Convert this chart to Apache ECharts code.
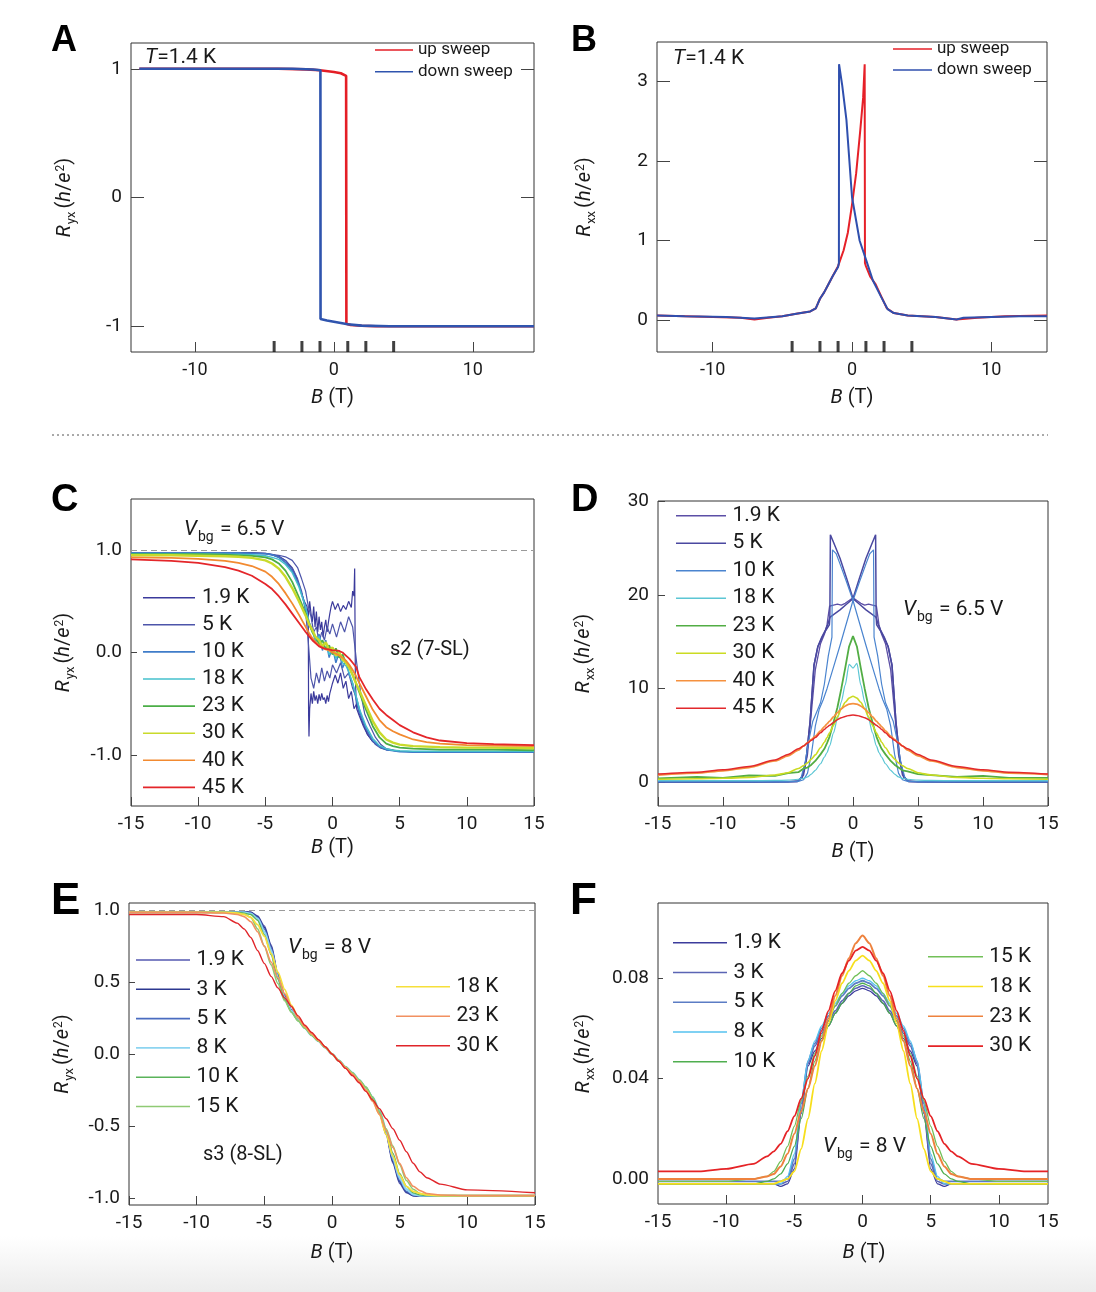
<!DOCTYPE html>
<html><head><meta charset="utf-8">
<script src="https://cdn.jsdelivr.net/npm/echarts@6/dist/echarts.min.js"></script>
<style>html,body{margin:0;padding:0;background:#fff}
#c{width:1096px;height:1292px;background:linear-gradient(to bottom,#fff 0,#fff 1236px,#ececec 1292px)}</style>
</head><body><div id="c"></div><script>
// ---------- Panel A (Ryx, T=1.4 K) ----------
const B_A_up = [-14.0,-8,-4,-2,-1,0,0.5,0.88,0.9,1.2,2,3,5,14.4];
const R_A_up = [1,1,1,0.995,0.988,0.975,0.965,0.945,-0.98,-0.99,-0.996,-1,-1,-1];
const B_A_down = [14.4,8,4,2,1,0.5,0,-0.5,-0.96,-0.97,-1.5,-3,-8,-14.0];
const R_A_down = [-1,-1,-1,-0.995,-0.985,-0.975,-0.965,-0.955,-0.943,0.988,0.994,1,1,1];
const fieldMarks = [-4.3,-2.3,-1,1,2.3,4.3];
// ---------- Panel B (Rxx, T=1.4 K) ----------
const B_B_up = [-14,-12,-10,-8,-7,-6,-5,-4,-3,-2.6,-2.3,-2,-1.7,-1.4,-1,-0.6,-0.3,0,0.3,0.6,0.8,0.91,0.93,1.0,1.3,1.7,2.1,2.5,3,4,5,6,7.5,9,11,14];
const R_B_up = [0.06,0.05,0.04,0.03,0.01,0.03,0.05,0.08,0.11,0.15,0.27,0.35,0.45,0.55,0.68,0.88,1.1,1.45,1.85,2.4,2.8,3.22,0.72,0.68,0.55,0.45,0.3,0.15,0.09,0.06,0.05,0.04,0.01,0.03,0.05,0.06];
const B_B_down = [14,12,10,8,7.5,6,5,4,3,2.55,2.1,1.5,1.03,0.55,0,-0.4,-0.7,-0.93,-0.94,-1.0,-1.4,-1.7,-2.0,-2.3,-2.6,-3,-4,-5,-7,-9,-12,-14];
const R_B_down = [0.05,0.05,0.04,0.03,0.01,0.04,0.05,0.06,0.09,0.14,0.29,0.5,0.75,1.0,1.55,2.52,2.95,3.22,0.72,0.67,0.55,0.45,0.35,0.27,0.15,0.11,0.08,0.05,0.02,0.04,0.05,0.06];
// ---------- Panel C (Ryx, s2 7-SL, Vbg=6.5 V) ----------
const B_C = [-15,-12,-10,-8,-7,-6,-5,-4.5,-4,-3.5,-3,-2.5,-2,-1.75,-1.5,-1.25,-1,-0.75,-0.5,-0.25,0,0.25,0.5,0.75,1,1.25,1.5,1.75,2,2.5,3,3.5,4,4.5,5,6,7,8,10,12,15];
const B_C19a = [-15,-10,-6,-5,-4.5,-4,-3.5,-3,-2.7,-2.4,-2.1,-1.9,-1.8,-1.78,-1.75,-1.7,-1.6,-1.5,-1.4,-1.3,-1.2,-1.1,-1.0,-0.9,-0.8,-0.7,-0.6,-0.5,-0.4,-0.3,-0.2,-0.1,0,0.2,0.4,0.6,0.8,1.0,1.2,1.4,1.6,1.8,2.0,2.3,2.6,3.0,3.5,4,5,6,10,15];
const R_C19a = [0.975,0.975,0.975,0.97,0.96,0.94,0.9,0.82,0.74,0.62,0.48,0.36,0.25,-0.6,-0.82,-0.55,-0.4,-0.5,-0.38,-0.47,-0.42,-0.5,-0.41,-0.47,-0.4,-0.46,-0.44,-0.5,-0.42,-0.48,-0.4,-0.35,-0.3,-0.22,-0.3,-0.2,-0.35,-0.28,-0.45,-0.38,-0.55,-0.5,-0.6,-0.7,-0.8,-0.87,-0.92,-0.95,-0.965,-0.97,-0.97,-0.965];
const B_C19b = [-15,-10,-6,-5,-4.5,-4,-3.5,-3,-2.7,-2.4,-2.1,-1.9,-1.8,-1.7,-1.6,-1.5,-1.4,-1.3,-1.2,-1.1,-1.0,-0.9,-0.8,-0.7,-0.6,-0.5,-0.4,-0.3,-0.2,-0.1,0,0.2,0.4,0.6,0.8,1.0,1.2,1.4,1.5,1.6,1.65,1.7,1.75,1.8,2.0,2.3,2.6,3.0,3.5,4,5,6,10,15];
const R_C19b = [0.975,0.975,0.975,0.97,0.955,0.93,0.88,0.8,0.72,0.62,0.5,0.45,0.35,0.5,0.38,0.3,0.45,0.25,0.4,0.2,0.35,0.22,0.3,0.15,0.25,0.32,0.2,0.3,0.38,0.45,0.5,0.42,0.48,0.4,0.46,0.42,0.5,0.44,0.6,0.55,0.82,-0.2,-0.45,-0.55,-0.62,-0.72,-0.8,-0.87,-0.92,-0.95,-0.965,-0.97,-0.97,-0.965];
const B_C5 = [-15,-8,-5,-4,-3.5,-3,-2.6,-2.3,-2.0,-1.8,-1.6,-1.4,-1.2,-1.0,-0.8,-0.6,-0.4,-0.2,0,0.3,0.6,0.9,1.2,1.5,1.8,2.1,2.4,2.8,3.2,3.6,4,5,8,15];
const R_C5a = [0.97,0.97,0.965,0.94,0.9,0.83,0.72,0.6,0.4,0.1,-0.25,-0.35,-0.2,-0.3,-0.15,-0.28,-0.18,-0.25,-0.12,-0.2,-0.1,-0.25,-0.2,-0.35,-0.45,-0.6,-0.72,-0.83,-0.9,-0.935,-0.95,-0.965,-0.97,-0.97];
const R_C5b = [0.97,0.97,0.965,0.95,0.935,0.9,0.83,0.72,0.6,0.45,0.35,0.2,0.25,0.1,0.2,0.12,0.25,0.18,0.28,0.15,0.3,0.2,0.35,0.25,-0.1,-0.4,-0.6,-0.72,-0.83,-0.9,-0.94,-0.965,-0.97,-0.97];
const R_C10 = [0.975,0.975,0.975,0.975,0.975,0.97,0.965,0.955,0.93,0.88,0.8,0.66,0.45,0.3,0.22,0.1,0.18,0.02,0.12,-0.05,0.05,-0.1,0.0,-0.15,-0.08,-0.22,-0.3,-0.45,-0.58,-0.74,-0.86,-0.92,-0.95,-0.96,-0.97,-0.975,-0.975,-0.975,-0.975,-0.975,-0.975];
const R_C18 = [0.965,0.965,0.965,0.96,0.96,0.955,0.945,0.93,0.91,0.86,0.78,0.64,0.44,0.3,0.2,0.12,0.16,0.05,0.1,-0.02,0.04,-0.06,0.02,-0.1,-0.13,-0.2,-0.3,-0.42,-0.55,-0.72,-0.84,-0.91,-0.94,-0.955,-0.96,-0.965,-0.965,-0.965,-0.965,-0.965,-0.965];
const R_C23 = [0.96,0.96,0.96,0.955,0.95,0.945,0.93,0.91,0.87,0.8,0.69,0.54,0.38,0.28,0.2,0.15,0.08,0.12,0.03,0.07,-0.02,0.04,-0.05,-0.02,-0.1,-0.14,-0.22,-0.3,-0.39,-0.56,-0.72,-0.83,-0.89,-0.915,-0.93,-0.94,-0.945,-0.95,-0.95,-0.95,-0.955];
const R_C30 = [0.95,0.95,0.945,0.94,0.935,0.925,0.9,0.87,0.82,0.74,0.63,0.5,0.36,0.28,0.22,0.15,0.12,0.06,0.1,0.02,0.05,-0.03,0.0,-0.07,-0.1,-0.15,-0.22,-0.3,-0.37,-0.52,-0.67,-0.78,-0.85,-0.88,-0.9,-0.915,-0.92,-0.925,-0.93,-0.93,-0.935];
const R_C40 = [0.93,0.925,0.915,0.895,0.875,0.845,0.79,0.74,0.67,0.58,0.48,0.37,0.25,0.19,0.14,0.1,0.07,0.05,0.03,0.02,0.0,-0.01,-0.03,-0.05,-0.08,-0.12,-0.17,-0.23,-0.3,-0.43,-0.56,-0.66,-0.73,-0.77,-0.8,-0.85,-0.875,-0.89,-0.905,-0.91,-0.915];
const R_C45 = [0.91,0.895,0.875,0.835,0.8,0.75,0.67,0.62,0.55,0.47,0.38,0.29,0.2,0.16,0.12,0.09,0.06,0.045,0.035,0.03,0.02,0.02,0.015,0.0,-0.03,-0.06,-0.1,-0.14,-0.24,-0.36,-0.46,-0.55,-0.61,-0.66,-0.71,-0.78,-0.83,-0.86,-0.885,-0.895,-0.905];
// ---------- Panel D (Rxx, s2, Vbg=6.5 V) ----------
const B_D = [-15,-12,-10,-8,-6,-5,-4.2,-3.8,-3.5,-3.2,-2.9,-2.5,-2.2,-2,-1.8,-1.5,-1.2,-0.9,-0.6,-0.3,0,0.3,0.6,0.9,1.2,1.5,1.8,2,2.2,2.5,2.9,3.2,3.5,3.8,4.2,5,6,8,10,12,15];
const R_D19 = [0.1,0.1,0.1,0.1,0.1,0.1,0.2,0.8,3.0,7.5,12.0,14.8,15.8,16.8,18.8,18.9,19.0,18.9,19.1,19.4,19.7,19.4,19.1,18.9,19.0,18.9,18.8,16.8,15.8,14.8,12.0,7.5,3.0,0.8,0.2,0.1,0.1,0.1,0.1,0.1,0.1];
const B_D5a = [-15,-8,-5,-4.3,-3.9,-3.6,-3.3,-3.0,-2.7,-2.4,-2.1,-1.9,-1.78,-1.74,-1.5,-1.0,-0.5,0,0.5,1.0,1.5,1.78,1.82,2.1,2.4,2.7,3.0,3.3,3.6,3.9,4.3,5,8,15];
const R_D5a = [0.05,0.05,0.08,0.1,0.6,2.5,6.5,12.5,14.5,15.5,16.3,17.0,17.6,26.4,25.6,23.9,21.8,19.6,19.0,18.4,17.9,17.6,16.8,16.2,15.4,14.5,12.5,6.5,2.5,0.6,0.1,0.08,0.05,0.05];
const B_D5b = [-15,-8,-5,-4.3,-3.9,-3.6,-3.3,-3.0,-2.7,-2.4,-2.1,-1.82,-1.78,-1.5,-1.0,-0.5,0,0.5,1.0,1.5,1.74,1.78,1.9,2.1,2.4,2.7,3.0,3.3,3.6,3.9,4.3,5,8,15];
const R_D5b = [0.05,0.05,0.08,0.1,0.6,2.5,6.5,12.5,14.5,15.4,16.2,16.8,17.6,17.9,18.4,19.0,19.6,21.8,23.9,25.6,26.4,17.6,17.0,16.3,15.5,14.5,12.5,6.5,2.5,0.6,0.1,0.08,0.05,0.05];
const B_D10a = [-15,-8,-5,-4.3,-4.0,-3.7,-3.4,-3.1,-2.8,-2.5,-2.2,-1.9,-1.62,-1.58,-1.3,-1.0,-0.5,0,0.5,1.0,1.5,2.0,2.3,2.6,2.9,3.2,3.5,3.8,4.2,5,8,15];
const R_D10a = [0.1,0.1,0.1,0.15,0.5,2.0,4.5,6.5,7.5,8.5,10.5,13.5,15.5,24.8,24.4,23.3,21.4,19.4,17.0,14.6,12.3,10.0,8.8,7.8,6.0,3.0,1.0,0.3,0.12,0.1,0.1,0.1];
const B_D10b = [-15,-8,-5,-4.2,-3.8,-3.5,-3.2,-2.9,-2.6,-2.3,-2.0,-1.5,-1.0,-0.5,0,0.5,1.0,1.3,1.58,1.62,1.9,2.2,2.5,2.8,3.1,3.4,3.7,4.0,4.3,5,8,15];
const R_D10b = [0.1,0.1,0.1,0.12,0.3,1.0,3.0,6.0,7.8,8.8,10.0,12.3,14.6,17.0,19.4,21.4,23.3,24.4,24.8,15.5,13.5,10.5,8.5,7.5,6.5,4.5,2.0,0.5,0.15,0.1,0.1,0.1];
const R_D18 = [0.2,0.2,0.2,0.2,0.22,0.25,0.35,0.45,0.6,0.9,1.3,2.0,2.7,3.2,3.9,5.3,6.8,8.6,10.4,12.6,12.2,12.7,10.4,8.6,6.8,5.3,3.9,3.2,2.7,2.0,1.3,0.9,0.6,0.45,0.35,0.25,0.22,0.2,0.2,0.2,0.2];
const R_D23 = [0.45,0.6,0.5,0.75,0.7,1.0,1.1,1.5,1.6,1.9,2.3,3.0,3.6,4.2,4.9,6.4,8.0,10.0,12.2,14.5,15.6,14.5,12.2,10.0,8.0,6.4,4.9,4.2,3.6,3.0,2.3,1.9,1.6,1.3,1.2,0.9,0.8,0.6,0.7,0.5,0.5];
const R_D30 = [0.35,0.4,0.45,0.55,0.8,1.05,1.5,1.8,2.1,2.5,2.95,3.7,4.3,4.8,5.3,6.1,7.0,7.85,8.55,9.0,9.2,9.0,8.55,7.85,7.0,6.1,5.3,4.8,4.3,3.7,2.95,2.5,2.1,1.8,1.5,1.05,0.8,0.55,0.45,0.4,0.35];
const R_D40 = [0.8,1.0,1.25,1.6,2.3,2.85,3.45,3.9,4.25,4.6,4.95,5.5,5.95,6.25,6.55,7.0,7.45,7.85,8.15,8.35,8.4,8.35,8.15,7.85,7.45,7.0,6.55,6.25,5.95,5.5,4.95,4.6,4.25,3.9,3.45,2.85,2.3,1.6,1.25,1.0,0.85];
const R_D45 = [0.9,1.1,1.35,1.7,2.4,3.0,3.6,3.9,4.2,4.5,4.8,5.3,5.65,5.9,6.1,6.4,6.7,6.9,7.05,7.15,7.2,7.15,7.05,6.9,6.7,6.4,6.1,5.9,5.65,5.3,4.8,4.5,4.2,3.9,3.6,3.0,2.4,1.7,1.35,1.1,0.9];
// ---------- Panel E (Ryx, s3 8-SL, Vbg=8 V) ----------
const B_E = [-15,-10,-8,-7,-6.5,-6,-5.5,-5,-4.5,-4,-3.5,-3,-2.5,-2,-1.5,-1,-0.5,0,0.5,1,1.5,2,2.5,3,3.5,4,4.5,5,5.5,6,6.5,7,8,10,15];
const R_E19 = [0.99,0.99,0.99,0.99,0.99,0.985,0.96,0.89,0.76,0.56,0.41,0.31,0.245,0.19,0.14,0.095,0.048,0,-0.048,-0.095,-0.14,-0.19,-0.245,-0.31,-0.41,-0.56,-0.76,-0.9,-0.965,-0.985,-0.99,-0.99,-0.99,-0.99,-0.99];
const R_E3 = [0.99,0.99,0.99,0.99,0.99,0.985,0.955,0.88,0.75,0.55,0.405,0.305,0.24,0.185,0.135,0.09,0.045,0,-0.045,-0.09,-0.135,-0.185,-0.24,-0.305,-0.405,-0.55,-0.75,-0.89,-0.96,-0.985,-0.99,-0.99,-0.99,-0.99,-0.99];
const R_E5 = [0.985,0.985,0.985,0.985,0.985,0.98,0.95,0.87,0.74,0.545,0.4,0.3,0.24,0.185,0.135,0.09,0.045,0,-0.045,-0.09,-0.135,-0.185,-0.24,-0.3,-0.4,-0.545,-0.74,-0.88,-0.955,-0.98,-0.985,-0.985,-0.985,-0.985,-0.985];
const R_E8 = [0.985,0.985,0.985,0.985,0.985,0.975,0.94,0.85,0.72,0.53,0.39,0.3,0.235,0.18,0.13,0.09,0.045,0,-0.045,-0.09,-0.13,-0.18,-0.235,-0.3,-0.39,-0.53,-0.72,-0.86,-0.94,-0.975,-0.985,-0.985,-0.985,-0.985,-0.985];
const R_E10 = [0.985,0.985,0.985,0.985,0.98,0.97,0.93,0.83,0.69,0.52,0.38,0.29,0.23,0.18,0.13,0.09,0.045,0,-0.045,-0.09,-0.13,-0.18,-0.23,-0.3,-0.4,-0.53,-0.69,-0.83,-0.92,-0.965,-0.98,-0.985,-0.985,-0.985,-0.985];
const R_E15 = [0.985,0.985,0.985,0.98,0.975,0.95,0.87,0.75,0.62,0.49,0.37,0.29,0.23,0.18,0.13,0.09,0.045,0,-0.045,-0.09,-0.13,-0.18,-0.23,-0.3,-0.4,-0.52,-0.64,-0.77,-0.88,-0.94,-0.97,-0.98,-0.985,-0.985,-0.985];
const R_E18 = [0.985,0.985,0.985,0.98,0.97,0.95,0.9,0.82,0.7,0.57,0.45,0.34,0.255,0.19,0.14,0.095,0.048,0,-0.048,-0.095,-0.14,-0.19,-0.25,-0.32,-0.42,-0.56,-0.71,-0.84,-0.92,-0.955,-0.97,-0.98,-0.985,-0.985,-0.985];
const R_E23 = [0.985,0.985,0.98,0.97,0.955,0.92,0.85,0.75,0.64,0.53,0.42,0.33,0.25,0.19,0.14,0.095,0.048,0,-0.048,-0.095,-0.14,-0.19,-0.25,-0.33,-0.42,-0.53,-0.65,-0.76,-0.86,-0.92,-0.95,-0.97,-0.98,-0.985,-0.985];
const R_E30 = [0.97,0.97,0.955,0.91,0.87,0.81,0.72,0.63,0.54,0.46,0.39,0.33,0.265,0.2,0.15,0.1,0.05,0,-0.05,-0.1,-0.15,-0.2,-0.26,-0.32,-0.38,-0.45,-0.52,-0.6,-0.68,-0.76,-0.82,-0.86,-0.905,-0.945,-0.965];
// ---------- Panel F (Rxx, s3, Vbg=8 V) ----------
const B_F = [-15,-12,-10,-8,-7,-6.5,-6,-5.5,-5,-4.5,-4,-3.5,-3,-2.5,-2,-1.5,-1,-0.5,0,0.5,1,1.5,2,2.5,3,3.5,4,4.5,5,5.5,6,6.5,7,8,10,12,13.6];
const R_F19 = [-0.002,-0.002,-0.002,-0.002,-0.002,-0.002,-0.003,-0.002,0.004,0.026,0.045,0.051,0.056,0.061,0.066,0.07,0.073,0.075,0.076,0.075,0.073,0.07,0.066,0.061,0.056,0.051,0.045,0.026,0.004,-0.002,-0.003,-0.002,-0.002,-0.002,-0.002,-0.002,-0.002];
const R_F3 = [-0.002,-0.002,-0.002,-0.002,-0.002,-0.002,-0.002,-0.001,0.006,0.028,0.046,0.053,0.058,0.063,0.067,0.071,0.074,0.076,0.077,0.076,0.074,0.071,0.067,0.063,0.058,0.053,0.046,0.028,0.006,-0.001,-0.002,-0.002,-0.002,-0.002,-0.002,-0.002,-0.002];
const R_F5 = [-0.001,-0.001,-0.001,-0.001,-0.001,-0.001,-0.001,0.0,0.008,0.03,0.047,0.054,0.06,0.065,0.069,0.073,0.076,0.078,0.079,0.078,0.076,0.073,0.069,0.065,0.06,0.054,0.047,0.03,0.008,0.0,-0.001,-0.001,-0.001,-0.001,-0.001,-0.001,-0.001];
const R_F8 = [-0.002,-0.002,-0.002,-0.002,-0.002,-0.002,-0.002,0.001,0.01,0.031,0.047,0.055,0.061,0.066,0.07,0.074,0.077,0.079,0.08,0.079,0.077,0.074,0.07,0.066,0.061,0.055,0.047,0.031,0.01,0.001,-0.002,-0.002,-0.002,-0.002,-0.002,-0.002,-0.002];
const R_F10 = [-0.002,-0.002,-0.002,-0.002,-0.001,0.0,0.002,0.006,0.013,0.024,0.036,0.047,0.055,0.061,0.066,0.07,0.074,0.077,0.078,0.077,0.074,0.07,0.066,0.061,0.055,0.047,0.036,0.024,0.013,0.006,0.002,0.0,-0.001,-0.002,-0.002,-0.002,-0.002];
const R_F15 = [-0.001,-0.001,-0.001,0.0,0.001,0.003,0.007,0.013,0.021,0.031,0.041,0.05,0.057,0.063,0.069,0.074,0.078,0.081,0.083,0.081,0.078,0.074,0.069,0.063,0.057,0.05,0.041,0.031,0.021,0.013,0.007,0.003,0.001,0.0,-0.001,-0.001,-0.001];
const R_F18 = [-0.002,-0.002,-0.002,-0.002,-0.002,-0.002,-0.001,0.0,0.003,0.012,0.024,0.038,0.051,0.062,0.071,0.078,0.083,0.087,0.089,0.087,0.083,0.078,0.071,0.062,0.051,0.038,0.024,0.012,0.003,0.0,-0.001,-0.002,-0.002,-0.002,-0.002,-0.002,-0.002];
const R_F23 = [0.0,0.0,0.0,0.0,0.001,0.002,0.005,0.01,0.018,0.027,0.036,0.045,0.055,0.064,0.073,0.081,0.088,0.094,0.097,0.094,0.088,0.081,0.073,0.064,0.055,0.045,0.036,0.027,0.018,0.01,0.005,0.002,0.001,0.0,0.0,0.0,0.0];
const R_F30 = [0.003,0.003,0.004,0.006,0.009,0.011,0.014,0.019,0.025,0.032,0.04,0.049,0.059,0.067,0.075,0.082,0.087,0.091,0.0925,0.091,0.087,0.082,0.075,0.067,0.059,0.049,0.04,0.032,0.025,0.019,0.014,0.011,0.009,0.006,0.004,0.003,0.003];

// ---------- tick labels ----------
const ticksAB_x = [-10,0,10];
const ticksA_y = [-1,0,1];
const ticksB_y = [0,1,2,3];
const ticksC_y = [-1,0,1];
const ticksD_y = [0,10,20,30];
const ticksE_y = [-1,-0.5,0,0.5,1];
const ticksF_y = [0,0.04,0.08];
// panel F: axis ends at B = 13.6, but its right-edge label reads "15" in the original
const ticksF_x = [-10,-5,0,5,10];
const labelPosF_x = [-15,-10,-5,0,5,10,13.6];
const labelTextF_x = ['-15','-10','-5','0','5','10','15'];

// ================= rendering =================
const FONT = 'Roboto';
const TXT = '#1a1a1a';
const zip = (xs, ys) => xs.map((x, i) => [x, ys[i]]);
function ln(name, gi, xs, ys, color, width, opt) {
  return Object.assign({
    type: 'line', name, xAxisIndex: gi, yAxisIndex: gi, data: zip(xs, ys),
    symbol: 'none', showSymbol: false, silent: true, animation: false,
    lineStyle: { color, width }, itemStyle: { color }
  }, opt || {});
}
const sm = { smooth: 0.25, smoothMonotone: 'x' };

const richName = {
  i: { fontStyle: 'italic', fontSize: 20, lineHeight: 24, verticalAlign: 'top', fontFamily: FONT, color: TXT },
  n: { fontSize: 20, lineHeight: 24, verticalAlign: 'top', fontFamily: FONT, color: TXT },
  s: { fontSize: 13, lineHeight: 13, padding: [10, 3, 0, 1], verticalAlign: 'top', fontFamily: FONT, color: TXT },
  p: { fontSize: 12, lineHeight: 12, padding: [0, 0, 0, 1], verticalAlign: 'top', fontFamily: FONT, color: TXT }
};
const nameRyx = '{i|R}{s|yx}{n|(}{i|h}{n|/}{i|e}{p|2}{n|)}';
const nameRxx = '{i|R}{s|xx}{n|(}{i|h}{n|/}{i|e}{p|2}{n|)}';
const nameB = '{i|B}{n| (T)}';

const grids = [
  { left: 131, top: 43, width: 403, height: 309 },
  { left: 657, top: 42, width: 390, height: 310 },
  { left: 131, top: 499, width: 403, height: 307 },
  { left: 658, top: 501, width: 390, height: 305 },
  { left: 129, top: 903, width: 406, height: 302 },
  { left: 658, top: 903, width: 390, height: 301 }
].map(g => Object.assign(g, { show: true, borderColor: '#333', borderWidth: 1, containLabel: false, outerBoundsMode: 'none' }));

function xAx(gi, min, max, fs, gap, custom) {
  const a = {
    gridIndex: gi, type: 'value', min, max, position: 'bottom',
    axisLine: { show: false, onZero: false }, splitLine: { show: false },
    axisTick: { show: true, inside: true, length: custom ? 10 : 9, lineStyle: { color: '#444', width: 1 } },
    axisLabel: { fontSize: fs, margin: 9, color: TXT, fontFamily: FONT },
    name: nameB, nameLocation: 'middle', nameGap: gap, nameTextStyle: { rich: richName }
  };
  if (custom) { a.axisTick.customValues = custom; a.axisLabel.customValues = custom; }
  else { a.interval = 5; }
  return a;
}
function yAx(gi, min, max, custom, fmt, name, gap, tickLen, fs) {
  return {
    gridIndex: gi, type: 'value', min, max, position: 'left',
    axisLine: { show: false, onZero: false }, splitLine: { show: false },
    axisTick: { show: true, inside: true, length: tickLen, customValues: custom, lineStyle: { color: '#444', width: 1 } },
    axisLabel: { fontSize: fs, margin: 9, color: TXT, fontFamily: FONT, customValues: custom, formatter: fmt },
    name, nameLocation: 'middle', nameRotate: 90, nameGap: gap, nameTextStyle: { rich: richName }
  };
}
function yRight(gi, min, max, custom) {
  return {
    gridIndex: gi, type: 'value', min, max, position: 'right',
    axisLine: { show: false, onZero: false }, splitLine: { show: false },
    axisTick: { show: true, inside: true, length: 13, customValues: custom, lineStyle: { color: '#444', width: 1 } },
    axisLabel: { show: false }
  };
}

const xF = xAx(5, -15, 13.6, 19, 39, ticksF_x);
xF.axisLabel.customValues = labelPosF_x;
xF.axisLabel.formatter = v => labelTextF_x[labelPosF_x.indexOf(v)] ?? String(v);
xF.nameTextStyle = { rich: richName, padding: [0, 0, 0, 22] };
xF.axisTick.length = 9;

const xAxes = [
  xAx(0, -14.6, 14.4, 18, 36, ticksAB_x),
  xAx(1, -14, 14, 18, 36, ticksAB_x),
  xAx(2, -15, 15, 19, 32),
  xAx(3, -15, 15, 19, 36),
  xAx(4, -15, 15, 19, 38),
  xF
];
const yAxes = [
  yAx(0, -1.2, 1.2, ticksA_y, v => String(v), nameRyx, 52, 13, 19),
  yAx(1, -0.4, 3.5, ticksB_y, v => String(v), nameRxx, 58, 13, 19),
  yAx(2, -1.5, 1.5, ticksC_y, v => v.toFixed(1), nameRyx, 53, 6, 19),
  yAx(3, -2.5, 30, ticksD_y, v => String(v), nameRxx, 60, 7, 19),
  yAx(4, -1.05, 1.05, ticksE_y, v => v.toFixed(1), nameRyx, 52, 6, 19),
  yAx(5, -0.01, 0.11, ticksF_y, v => v.toFixed(2), nameRxx, 60, 5, 19),
  yRight(0, -1.2, 1.2, ticksA_y),
  yRight(1, -0.4, 3.5, ticksB_y)
];

const dash1 = { markLine: { silent: true, symbol: 'none', label: { show: false }, lineStyle: { color: '#9a9a9a', type: [6, 4], width: 1.2 }, data: [{ yAxis: 1 }] } };
function marks(gi, ymin) {
  return { type: 'scatter', xAxisIndex: gi, yAxisIndex: gi, data: fieldMarks.map(b => [b, ymin]), symbol: 'rect', symbolSize: [3, 11], symbolOffset: [0, -5.5], itemStyle: { color: '#111' }, silent: true, clip: false, z: 5, animation: false };
}

const series = [
  ln('A|up sweep', 0, B_A_up, R_A_up, '#e41e26', 2.6),
  ln('A|down sweep', 0, B_A_down, R_A_down, '#2f54ae', 2.6),
  marks(0, -1.2),
  ln('B|up sweep', 1, B_B_up, R_B_up, '#e62028', 2),
  ln('B|down sweep', 1, B_B_down, R_B_down, '#2f4fae', 2),
  marks(1, -0.4),
  // C
  ln('C|1.9 K', 2, B_C19a, R_C19a, '#3b3a9c', 1.2, dash1),
  ln('C|1.9 K|b', 2, B_C19b, R_C19b, '#3b3a9c', 1.2),
  ln('C|5 K', 2, B_C5, R_C5a, '#4d55aa', 1.2),
  ln('C|5 K|b', 2, B_C5, R_C5b, '#4d55aa', 1.2),
  ln('C|10 K', 2, B_C, R_C10, '#3f7cc9', 1.4),
  ln('C|18 K', 2, B_C, R_C18, '#45c0cc', 1.4),
  ln('C|23 K', 2, B_C, R_C23, '#4bae47', 1.8),
  ln('C|30 K', 2, B_C, R_C30, '#c9da2b', 2.4),
  ln('C|40 K', 2, B_C, R_C40, '#f28a30', 1.8),
  ln('C|45 K', 2, B_C, R_C45, '#e4262a', 1.8),
  // D
  ln('D|1.9 K', 3, B_D, R_D19, '#5c4fa6', 1.3),
  ln('D|5 K', 3, B_D5a, R_D5a, '#4a48a0', 1.5),
  ln('D|5 K|b', 3, B_D5b, R_D5b, '#4a48a0', 1.5),
  ln('D|10 K', 3, B_D10a, R_D10a, '#4a84cf', 1.2),
  ln('D|10 K|b', 3, B_D10b, R_D10b, '#4a84cf', 1.2),
  ln('D|18 K', 3, B_D, R_D18, '#5cc6d4', 1.2, sm),
  ln('D|23 K', 3, B_D, R_D23, '#52ad44', 1.8),
  ln('D|30 K', 3, B_D, R_D30, '#cbdb22', 1.6, sm),
  ln('D|40 K', 3, B_D, R_D40, '#f5913f', 1.8, sm),
  ln('D|45 K', 3, B_D, R_D45, '#e2292c', 1.5, sm),
  // E
  ln('E|1.9 K', 4, B_E, R_E19, '#5458b0', 1.5, Object.assign({}, sm, dash1)),
  ln('E|3 K', 4, B_E, R_E3, '#2c3890', 1.5, sm),
  ln('E|5 K', 4, B_E, R_E5, '#4a6cc0', 1.5, sm),
  ln('E|8 K', 4, B_E, R_E8, '#8dd4f0', 2.4, sm),
  ln('E|10 K', 4, B_E, R_E10, '#5ab35a', 1.3, sm),
  ln('E|15 K', 4, B_E, R_E15, '#8fca74', 1.6, sm),
  ln('E|18 K', 4, B_E, R_E18, '#f6df3a', 1.8, sm),
  ln('E|23 K', 4, B_E, R_E23, '#f29060', 1.6, sm),
  ln('E|30 K', 4, B_E, R_E30, '#e0252a', 1.4, sm),
  // F
  ln('F|1.9 K', 5, B_F, R_F19, '#3c3c9c', 1.3, sm),
  ln('F|3 K', 5, B_F, R_F3, '#5a64b4', 1.6, sm),
  ln('F|5 K', 5, B_F, R_F5, '#5b7cc4', 1.8, sm),
  ln('F|8 K', 5, B_F, R_F8, '#55c2ef', 1.3, sm),
  ln('F|10 K', 5, B_F, R_F10, '#4fae4f', 1.3, sm),
  ln('F|15 K', 5, B_F, R_F15, '#72c058', 1.3, sm),
  ln('F|18 K', 5, B_F, R_F18, '#f7df1c', 1.8, sm),
  ln('F|23 K', 5, B_F, R_F23, '#ee823e', 2.0, sm),
  ln('F|30 K', 5, B_F, R_F30, '#e52326', 1.8, sm)
];

function lg(names, left, top, itemWidth, gap, fs, pad, ih) {
  return {
    data: names, left, top, orient: 'vertical', itemWidth, itemHeight: ih || 1.6, itemGap: gap, padding: 0,
    icon: 'rect', selectedMode: false, formatter: n => n.split('|')[1],
    textStyle: { fontSize: fs, lineHeight: fs, fontFamily: FONT, color: TXT, padding: [0, 0, 0, pad] }
  };
}
const pre = (p, arr) => arr.map(t => p + '|' + t);
const legends = [
  lg(pre('A', ['up sweep', 'down sweep']), 375, 41.5, 38, 4.7, 17, 0, 1.4),
  lg(pre('B', ['up sweep', 'down sweep']), 893, 40.5, 39, 4, 17, 0, 1.4),
  lg(pre('C', ['1.9 K', '5 K', '10 K', '18 K', '23 K', '30 K', '40 K', '45 K']), 143, 587.2, 52, 6.1, 21, 2),
  lg(pre('D', ['1.9 K', '5 K', '10 K', '18 K', '23 K', '30 K', '40 K', '45 K']), 676, 505.2, 50, 6.5, 21, 1.5),
  lg(pre('E', ['1.9 K', '3 K', '5 K', '8 K', '10 K', '15 K']), 136, 949.5, 54, 8.3, 21, 1.5),
  lg(pre('E', ['18 K', '23 K', '30 K']), 396, 976.2, 54, 8.5, 21, 1.5),
  lg(pre('F', ['1.9 K', '3 K', '5 K', '8 K', '10 K']), 673, 932.2, 54, 8.75, 21, 1.5),
  lg(pre('F', ['15 K', '18 K', '23 K', '30 K']), 928, 946.2, 55, 8.8, 21, 1.2)
];

function rt(fs) {
  return {
    i: { fontStyle: 'italic', fontSize: fs, lineHeight: fs + 4, verticalAlign: 'top', fontFamily: FONT, fill: TXT },
    n: { fontSize: fs, lineHeight: fs + 4, verticalAlign: 'top', fontFamily: FONT, fill: TXT },
    s: { fontSize: Math.round(fs * 0.66), lineHeight: Math.round(fs * 0.66), padding: [Math.round(fs * 0.5), 1, 0, 1], verticalAlign: 'top', fontFamily: FONT, fill: TXT }
  };
}
function gtext(x, y, text, fs) {
  return { type: 'text', x, y, silent: true, style: { text, rich: rt(fs), fontSize: fs, fontFamily: FONT, fill: TXT, align: 'left', verticalAlign: 'middle' } };
}
function letter(x, y, t, fs) {
  return { type: 'text', x, y, silent: true, style: { text: t, fontSize: fs, fontWeight: 'bold', fontFamily: 'Liberation Sans', fill: '#000', align: 'left', verticalAlign: 'middle' } };
}
const graphics = [
  letter(51, 41, 'A', 36), letter(571, 41, 'B', 36),
  letter(51, 501, 'C', 38), letter(571, 501, 'D', 38),
  letter(51, 902, 'E', 44), letter(570, 902, 'F', 44),
  { type: 'line', silent: true, shape: { x1: 52, y1: 435, x2: 1048, y2: 435 }, style: { stroke: '#555', lineWidth: 1, lineDash: [2, 3] } },
  gtext(145, 60, '{i|T}{n|=1.4 K}', 21),
  gtext(673, 61, '{i|T}{n|=1.4 K}', 21),
  gtext(184, 532, '{i|V}{s|bg}{n| = 6.5 V}', 21),
  gtext(903, 612, '{i|V}{s|bg}{n| = 6.5 V}', 21),
  gtext(288, 950, '{i|V}{s|bg}{n| = 8 V}', 21),
  gtext(823, 1149, '{i|V}{s|bg}{n| = 8 V}', 21),
  gtext(390, 652, '{n|s2 (7-SL)}', 20),
  gtext(203, 1157, '{n|s3 (8-SL)}', 20)
];

const chart = echarts.init(document.getElementById('c'), null, { renderer: 'canvas' });
chart.setOption({
  animation: false,
  backgroundColor: 'transparent',
  textStyle: { fontFamily: FONT },
  grid: grids, xAxis: xAxes, yAxis: yAxes, series, legend: legends, graphic: graphics
});
</script></body></html>
